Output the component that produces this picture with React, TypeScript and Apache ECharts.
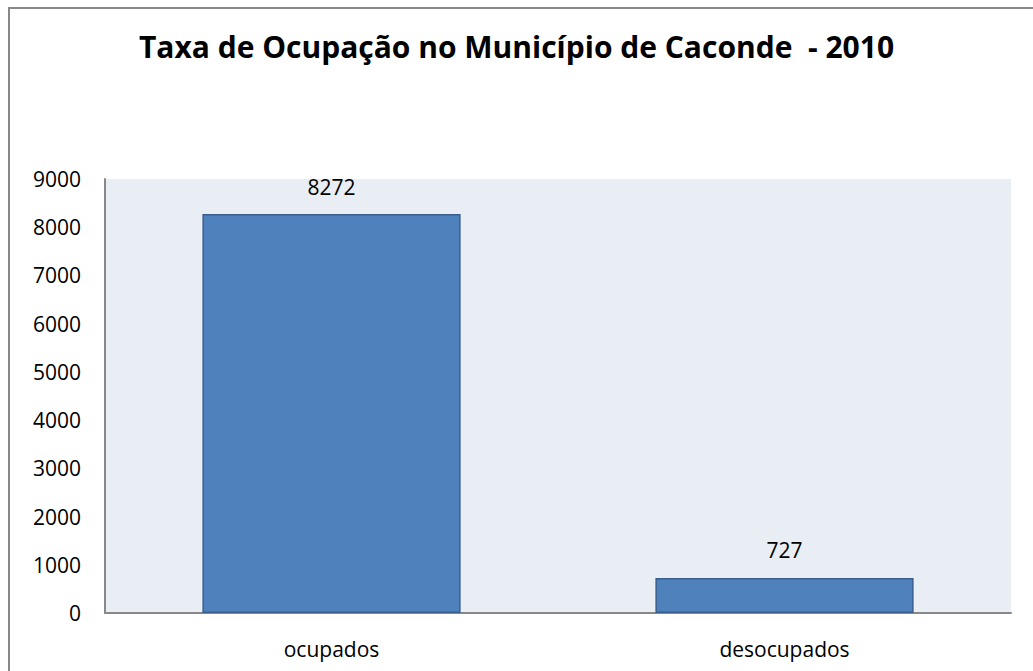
import React, { useEffect, useRef } from "react";
import * as echarts from "echarts";

const categories = ["ocupados", "desocupados"];
const values = [8272, 727];
const titleText = "Taxa de Ocupação no Município de Caconde  - 2010";

export default function App() {
  const ref = useRef<HTMLDivElement>(null);
  useEffect(() => {
    const chart = echarts.init(ref.current!, null, { renderer: "svg" });
    const font = "'Open Sans', 'Noto Sans', sans-serif";
    chart.setOption({
      animation: false,
      backgroundColor: "#ffffff",
      title: {
        text: titleText,
        left: "center",
        top: 26,
        textStyle: { fontFamily: font, fontSize: 30, fontWeight: "bold", color: "#000" },
      },
      graphic: [
        {
          type: "rect",
          shape: { x: 9, y: 8, width: 1040, height: 690 },
          style: { fill: "none", stroke: "#888888", lineWidth: 2 },
          silent: true,
        },
      ],
      grid: { left: 105, top: 179, right: 22, bottom: 58, show: true, backgroundColor: "#E9EDF4", borderWidth: 0 },
      xAxis: {
        type: "category",
        data: categories,
        axisLine: { show: true, lineStyle: { color: "#888888", width: 2 } },
        axisTick: { show: false },
        axisLabel: { fontFamily: font, fontSize: 21, color: "#000", margin: 25 },
      },
      yAxis: {
        type: "value",
        min: 0,
        max: 9000,
        interval: 1000,
        axisLine: { show: true, lineStyle: { color: "#888888", width: 2 } },
        axisTick: { show: false },
        splitLine: { show: false },
        axisLabel: {
          fontFamily: font,
          fontSize: 21,
          color: "#000",
          margin: 24,
          formatter: (v: number) => String(v),
        },
      },
      series: [
        {
          type: "bar",
          data: values,
          barCategoryGap: "43%",
          itemStyle: { color: "#4F81BD", borderColor: "#3A5F8C", borderWidth: 1.5 },
          label: {
            show: true,
            position: "top",
            distance: 17,
            fontFamily: font,
            fontSize: 21,
            color: "#000",
          },
        },
      ],
    });
    return () => chart.dispose();
  }, []);
  return <div ref={ref} style={{ position: "fixed", left: 0, top: 0, width: 1033, height: 671 }} />;
}
